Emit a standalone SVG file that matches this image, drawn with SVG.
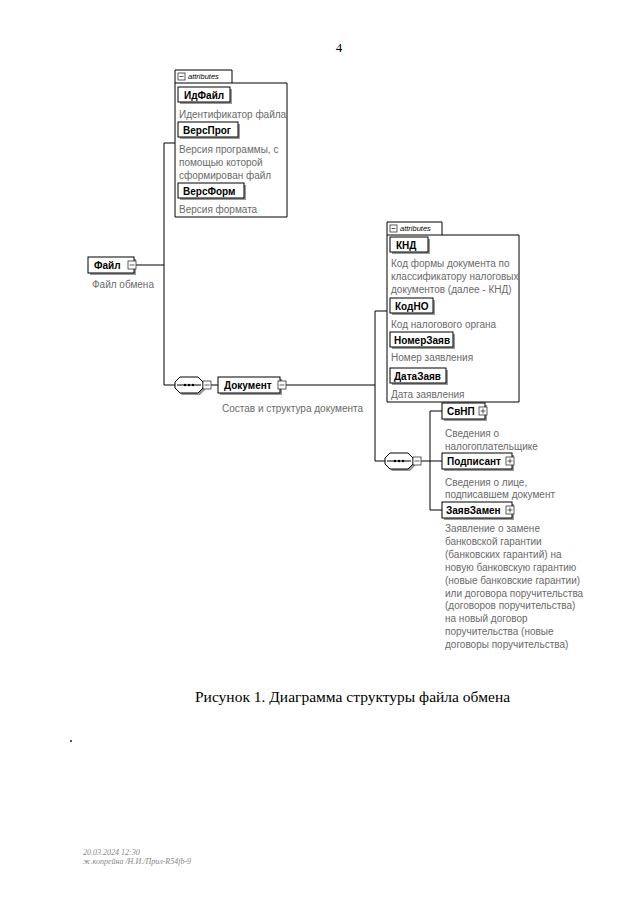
<svg xmlns="http://www.w3.org/2000/svg" width="640" height="905" viewBox="0 0 640 905">
<defs>
<style>
.bg{fill:#fff}
.box{fill:#fff;stroke:#000;stroke-width:1}
.sh{fill:#9a9a9a}
.ico{fill:#fff;stroke:#333;stroke-width:0.8}
.icl{stroke:#333;stroke-width:0.8}
.lbl{font-family:"Liberation Sans",Arial,sans-serif;font-weight:bold;font-size:10px;fill:#000}
.desc{font-family:"Liberation Sans",Arial,sans-serif;font-size:10px;fill:#6a6a6a}
.att{font-family:"Liberation Sans",Arial,sans-serif;font-style:italic;font-size:7.5px;fill:#000}
.conn{stroke:#000;fill:none;stroke-width:1}
.abox{fill:#fff;stroke:#000;stroke-width:1}
.cap{font-family:"Liberation Serif","Times New Roman",serif;font-size:15.5px;fill:#000}
.foot{font-family:"Liberation Serif",serif;font-style:italic;font-size:8px;fill:#888}
</style>
</defs>
<rect class="bg" x="0" y="0" width="640" height="905"/>
<text x="339" y="52" style="font-family:'Liberation Serif',serif;font-size:13px" text-anchor="middle">4</text>

<g id="connectors">
<path class="conn" d="M136,265 H164 M164,143 V385 M164,143 H175 M164,385 H175 M211,385 H218 M286,385 H375 M375,311 V461 M375,311 H387 M375,461 H385 M421,461 H430 M430,411 V510 M430,411 H442 M430,461 H442 M430,510 H442"/>
</g>

<g id="attributes1">
<path class="abox" d="M175,217 V70 H232 V83 H287 V217 Z"/>
<path class="conn" d="M175,83 H232"/>
<rect class="ico" x="178" y="73" width="7" height="7"/>
<path class="icl" d="M179.5,76.5 H183.5"/>
<text class="att" x="188" y="79">attributes</text>
</g>

<g id="ИдФайл">
<rect class="sh" x="180" y="89" width="52" height="15"/>
<rect class="box" x="178" y="87" width="52" height="15"/>
<text class="lbl" x="184" y="98.5">ИдФайл</text>
<text class="desc" x="179" y="118">Идентификатор файла</text>
</g>
<g id="ВерсПрог">
<rect class="sh" x="180" y="124" width="60" height="15"/>
<rect class="box" x="178" y="122" width="60" height="15"/>
<text class="lbl" x="183" y="133.5">ВерсПрог</text>
<text class="desc" x="179" y="153">Версия программы, с</text>
<text class="desc" x="179" y="166">помощью которой</text>
<text class="desc" x="179" y="179">сформирован файл</text>
</g>
<g id="ВерсФорм">
<rect class="sh" x="180" y="185" width="66" height="15"/>
<rect class="box" x="178" y="183" width="66" height="15"/>
<text class="lbl" x="183" y="194.5">ВерсФорм</text>
<text class="desc" x="179" y="213">Версия формата</text>
</g>

<g id="Файл">
<rect class="sh" x="90" y="259" width="46" height="16"/>
<rect class="box" x="88" y="257" width="46" height="16"/>
<text class="lbl" x="94" y="269">Файл</text>
<rect class="ico" x="128" y="261" width="8" height="8"/>
<path class="icl" d="M129.5,265 H134.5"/>
<text class="desc" x="92" y="288">Файл обмена</text>
</g>

<g id="sequence1">
<path class="sh" d="M182,379 H200 L205,384 V390 L200,395 H182 L177,390 V384 Z"/>
<path class="box" d="M180,377 H198 L203,382 V388 L198,393 H180 L175,388 V382 Z"/>
<path class="conn" d="M177,385 H201"/>
<circle cx="185" cy="385" r="1.2"/><circle cx="189" cy="385" r="1.2"/><circle cx="193" cy="385" r="1.2"/>
<rect class="ico" x="203" y="381" width="8" height="8"/>
<path class="icl" d="M204.5,385 H209.5"/>
</g>

<g id="Документ">
<rect class="sh" x="220" y="379" width="62" height="16"/>
<rect class="box" x="218" y="377" width="62" height="16"/>
<text class="lbl" x="224" y="389">Документ</text>
<rect class="ico" x="278" y="381" width="8" height="8"/>
<path class="icl" d="M279.5,385 H284.5"/>
<text class="desc" x="222" y="412">Состав и структура документа</text>
</g>

<g id="attributes2">
<path class="abox" d="M387,402 V222 H442 V235 H519 V402 Z"/>
<path class="conn" d="M387,235 H442"/>
<rect class="ico" x="390" y="225" width="7" height="7"/>
<path class="icl" d="M391.5,228.5 H395.5"/>
<text class="att" x="400" y="231">attributes</text>
</g>
<g id="КНД">
<rect class="sh" x="392" y="239" width="38" height="15"/>
<rect class="box" x="390" y="237" width="38" height="15"/>
<text class="lbl" x="396" y="248.5">КНД</text>
<text class="desc" x="391" y="267">Код формы документа по</text>
<text class="desc" x="391" y="280">классификатору налоговых</text>
<text class="desc" x="391" y="293">документов (далее - КНД)</text>
</g>
<g id="КодНО">
<rect class="sh" x="392" y="300" width="43" height="15"/>
<rect class="box" x="390" y="298" width="43" height="15"/>
<text class="lbl" x="395" y="309.5">КодНО</text>
<text class="desc" x="391" y="328">Код налогового органа</text>
</g>
<g id="НомерЗаяв">
<rect class="sh" x="392" y="334" width="63" height="15"/>
<rect class="box" x="390" y="332" width="63" height="15"/>
<text class="lbl" x="394" y="343.5">НомерЗаяв</text>
<text class="desc" x="391" y="361">Номер заявления</text>
</g>
<g id="ДатаЗаяв">
<rect class="sh" x="392" y="370" width="56" height="15"/>
<rect class="box" x="390" y="368" width="56" height="15"/>
<text class="lbl" x="394" y="379.5">ДатаЗаяв</text>
<text class="desc" x="391" y="398">Дата заявления</text>
</g>

<g id="sequence2">
<path class="sh" d="M392,455 H410 L415,460 V466 L410,471 H392 L387,466 V460 Z"/>
<path class="box" d="M390,453 H408 L413,458 V464 L408,469 H390 L385,464 V458 Z"/>
<path class="conn" d="M387,461 H411"/>
<circle cx="395" cy="461" r="1.2"/><circle cx="399" cy="461" r="1.2"/><circle cx="403" cy="461" r="1.2"/>
<rect class="ico" x="413" y="457" width="8" height="8"/>
<path class="icl" d="M414.5,461 H419.5"/>
</g>

<g id="СвНП">
<rect class="sh" x="444" y="405" width="43" height="16"/>
<rect class="box" x="442" y="403" width="43" height="16"/>
<text class="lbl" x="447" y="415">СвНП</text>
<rect class="ico" x="479" y="407" width="8" height="8"/>
<path class="icl" d="M480.5,411 H485.5 M483,408.5 V413.5"/>
<text class="desc" x="445" y="437">Сведения о</text>
<text class="desc" x="445" y="450">налогоплательщике</text>
</g>
<g id="Подписант">
<rect class="sh" x="444" y="455" width="70" height="16"/>
<rect class="box" x="442" y="453" width="70" height="16"/>
<text class="lbl" x="447" y="465">Подписант</text>
<rect class="ico" x="506" y="457" width="8" height="8"/>
<path class="icl" d="M507.5,461 H512.5 M510,458.5 V463.5"/>
<text class="desc" x="445" y="486">Сведения о лице,</text>
<text class="desc" x="445" y="498">подписавшем документ</text>
</g>
<g id="ЗаявЗамен">
<rect class="sh" x="444" y="504" width="70" height="16"/>
<rect class="box" x="442" y="502" width="70" height="16"/>
<text class="lbl" x="446" y="514">ЗаявЗамен</text>
<rect class="ico" x="506" y="506" width="8" height="8"/>
<path class="icl" d="M507.5,510 H512.5 M510,507.5 V512.5"/>
<text class="desc" x="445" y="532">Заявление о замене</text>
<text class="desc" x="445" y="545">банковской гарантии</text>
<text class="desc" x="445" y="558">(банковских гарантий) на</text>
<text class="desc" x="445" y="571">новую банковскую гарантию</text>
<text class="desc" x="445" y="584">(новые банковские гарантии)</text>
<text class="desc" x="445" y="597">или договора поручительства</text>
<text class="desc" x="445" y="609">(договоров поручительства)</text>
<text class="desc" x="445" y="622">на новый договор</text>
<text class="desc" x="445" y="635">поручительства (новые</text>
<text class="desc" x="445" y="648">договоры поручительства)</text>
</g>

<text class="cap" x="195" y="702">Рисунок 1. Диаграмма структуры файла обмена</text>
<rect x="70" y="740" width="2" height="2" fill="#555"/>
<text class="foot" x="83" y="855">20.03.2024 12:30</text>
<text class="foot" x="83" y="864">ж.копрейна /Н.И./Прил-R54fb-9</text>
</svg>
